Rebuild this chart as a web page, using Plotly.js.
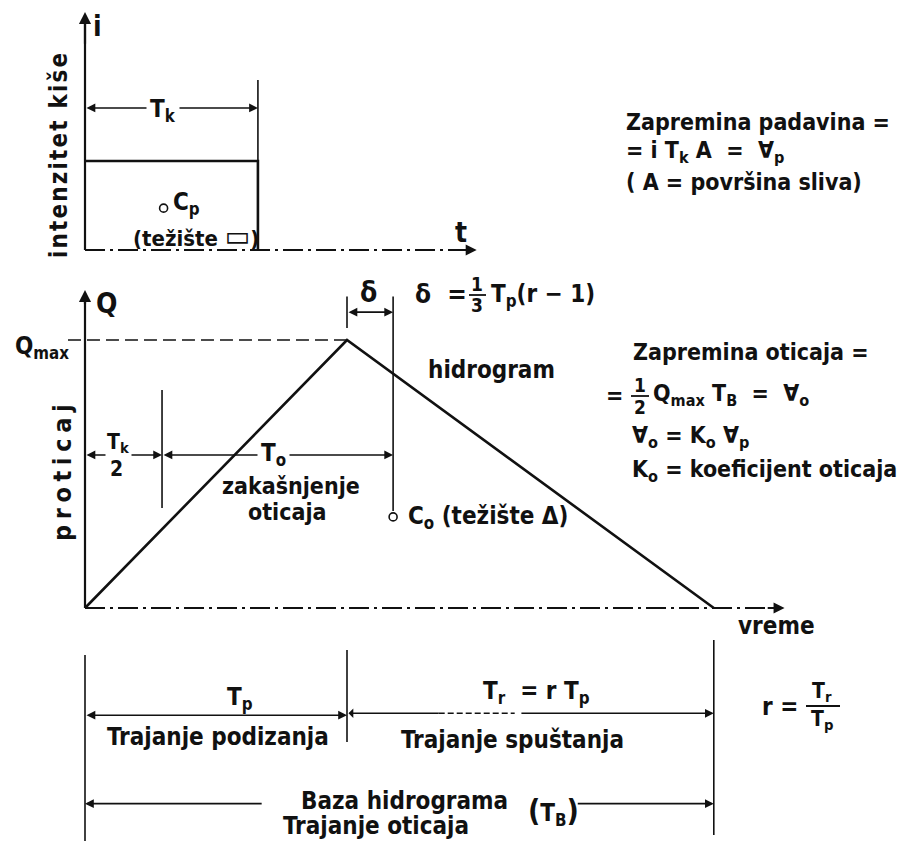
<!DOCTYPE html>
<html>
<head>
<meta charset="utf-8">
<script src="https://cdn.plot.ly/plotly-3.0.1.min.js"></script>
<style>
  html, body { margin: 0; padding: 0; background: #fff; }
  #chart { width: 905px; height: 841px; }
</style>
</head>
<body>
<div id="chart"></div>
<script>
// ---- Rain (hyetograph) ----
const rainTime = [0, 6.6, 6.6];          // Tk = 6.6
const rainIntensity = [1, 1, 0];         // constant intensity i = 1
const rainCentroidTime = [3.0];
const rainCentroidIntensity = [0.47];

// ---- Runoff (triangular hydrograph) ----
const hydroTime = [0, 10, 24];           // start, Tp, TB
const hydroFlow = [0, 10, 0];            // Qmax = 10
const runoffCentroidTime = [11.76];
const runoffCentroidFlow = [3.4];

// ---- Dimension marks ----
const halfRainTime = 2.94;               // Tk / 2
const lagEndTime = 11.76;                // end of To (through Co)
const peakTime = 10;
const baseTime = 24;

const W = 905, H = 841;
const FONT = "DejaVu Sans Condensed, DejaVu Sans, sans-serif";
const INK = "#111";
const FS = 24;
const FR = 23;   // right-hand formulas

// time axis: 26.2 px per unit, origin at x = 85
const xRange = [-85 / 26.2, (W - 85) / 26.2];
// flow axis: 26.8 px per unit, zero at y = 608
const yRange = [(608 - H) / 26.8, 608 / 26.8];
// intensity axis: 89 px per unit, zero at y = 250
const y2Range = [-(H - 250) / 89, 250 / 89];

function line(x, y, opts) {
  opts = opts || {};
  return {
    type: "scatter", mode: "lines", x: x, y: y,
    yaxis: opts.yaxis || "y",
    line: { color: INK, width: opts.width || 2, dash: opts.dash || "solid" },
    hoverinfo: "skip", showlegend: false
  };
}

const traces = [
  // hyetograph
  line([0, 0], [0, 2.55], { yaxis: "y2", width: 2.2 }),
  line(rainTime, rainIntensity, { yaxis: "y2", width: 2.6 }),
  line([rainTime[1], rainTime[1]], [1, 1.91], { yaxis: "y2", width: 1.6 }),
  line([0, 14.6], [0, 0], { yaxis: "y2", width: 2, dash: "20px,5px,3px,5px" }),
  {
    type: "scatter", mode: "markers", x: rainCentroidTime, y: rainCentroidIntensity, yaxis: "y2",
    marker: { symbol: "circle-open", size: 8, color: INK, line: { width: 1.6, color: INK } },
    hoverinfo: "skip", showlegend: false
  },

  // hydrograph
  line([0, 0], [0, 11.5], { width: 2.2 }),
  line(hydroTime, hydroFlow, { width: 2.6 }),
  line([-0.65, peakTime], [hydroFlow[1], hydroFlow[1]], { width: 1.6, dash: "13px,6px" }),
  line([0, 26.6], [0, 0], { width: 2, dash: "20px,5px,3px,5px" }),
  line([peakTime, peakTime], [10.45, 11.62], { width: 1.6 }),
  line([lagEndTime, lagEndTime], [3.62, 11.62], { width: 1.6 }),
  line([halfRainTime, halfRainTime], [3.73, 8.13], { width: 1.6 }),
  {
    type: "scatter", mode: "markers", x: runoffCentroidTime, y: runoffCentroidFlow,
    marker: { symbol: "circle-open", size: 8, color: INK, line: { width: 1.6, color: INK } },
    hoverinfo: "skip", showlegend: false
  },

  // time-base dimension lines
  line([0, 0], [-1.75, yRange[0]], { width: 1.6 }),
  line([peakTime, peakTime], [-1.57, -5.0], { width: 1.6 }),
  line([baseTime, baseTime], [-1.19, -8.47], { width: 1.6 }),
  line([13.5, 16.4], [-3.93, -3.93], { width: 1.6, dash: "6px,3px" })
];

// arrows drawn in data coordinates
function arrow(x0, y0, x1, y1, yref, side, w) {
  return {
    xref: "x", yref: yref, axref: "x", ayref: yref,
    x: x1, y: y1, ax: x0, ay: y0, text: "",
    showarrow: true, arrowside: side, arrowhead: 2, arrowsize: 1.1,
    arrowwidth: w || 1.6, arrowcolor: INK, standoff: 0, startstandoff: 0
  };
}

// text placed by page position
function label(text, px, py, size, opts) {
  opts = opts || {};
  const a = {
    xref: "paper", yref: "paper", x: px / W, y: 1 - py / H,
    xanchor: opts.anchor || "center", yanchor: "middle",
    text: text, showarrow: false,
    font: { family: FONT, size: size || FS, color: INK, weight: opts.weight || "bold" }
  };
  if (opts.angle !== undefined) a.textangle = opts.angle;
  if (opts.bg) { a.bgcolor = opts.bg; a.borderpad = opts.pad || 1; }
  return a;
}

const spaced = (s, sep) => s.split("").join(sep);

const annotations = [
  // axis arrowheads
  arrow(0, 2.3, 0, 2.674, "y2", "end", 2.2),
  arrow(14.2, 0, 14.95, 0, "y2", "end", 2),
  arrow(0, 11.3, 0, 11.87, "y", "end", 2.2),
  arrow(26.0, 0, 26.7, 0, "y", "end", 2),

  // Tk
  arrow(0, 1.596, rainTime[1], 1.596, "y2", "end+start"),
  // delta
  arrow(peakTime, 11.04, lagEndTime, 11.04, "y", "end+start"),
  // Tk/2 and To
  arrow(0, 5.71, halfRainTime, 5.71, "y", "end+start"),
  arrow(halfRainTime, 5.71, lagEndTime, 5.71, "y", "end+start"),
  // Tp, Tr
  arrow(0, -4.0, peakTime, -4.0, "y", "end+start"),
  arrow(peakTime, -3.93, 13.5, -3.93, "y", "start"),
  arrow(16.6, -3.93, baseTime, -3.93, "y", "end"),
  // TB
  arrow(6.8, -7.3, 0, -7.3, "y", "end"),
  arrow(18.75, -7.3, baseTime, -7.3, "y", "end"),

  // hyetograph text
  label("i", 97, 27, 28),
  label(spaced("intenzitet kiše", "\u200A"), 59, 156, 24, { angle: -90 }),
  label("T<sub>k</sub>", 163, 111, FS, { bg: "#fff", pad: 3 }),
  label("C<sub>p</sub>", 171, 204, FS, { anchor: "left" }),
  label("(težište <span style=\"font-size:30px\">▭</span>)", 196, 235, 22),
  label("t", 461, 232, 28),
  label("Zapremina padavina =", 624, 122, FR, { anchor: "left" }),
  label("= i T<sub>k</sub> A  =  ∀<sub>p</sub>", 624, 152, FR, { anchor: "left" }),
  label("( A = površina sliva)", 624, 182, FR, { anchor: "left" }),

  // hydrograph text
  label("Q", 106, 303, 28),
  label("Q<sub>max</sub>", 42, 347, FS),
  label("δ", 368, 292, 28),
  label("δ  =", 413, 294, 26, { anchor: "left" }),
  label("1", 477, 284, 19),
  label("3", 477, 305, 19),
  label("T<sub>p</sub>(r − 1)", 489, 295, FS, { anchor: "left" }),
  label("hidrogram", 491, 370, FS),
  label("Zapremina oticaja =", 631, 352, FR, { anchor: "left" }),
  label("=", 614, 395, FR, { anchor: "center" }),
  label("1", 640, 385, 19),
  label("2", 640, 407, 19),
  label("Q<sub>max</sub> T<sub>B</sub>  =  ∀<sub>o</sub>", 651, 395, FR, { anchor: "left" }),
  label("∀<sub>o</sub> = K<sub>o</sub> ∀<sub>p</sub>", 630, 437, FR, { anchor: "left" }),
  label("K<sub>o</sub> = koeficijent oticaja", 630, 471, FR, { anchor: "left" }),
  label("T<sub>k</sub>", 118, 443, 21, { bg: "#fff", pad: 0 }),
  label("2", 117, 469, 21),
  label("T<sub>o</sub>", 273, 454, FS, { bg: "#fff", pad: 3 }),
  label("zakašnjenje", 291, 486, 23),
  label("oticaja", 287, 512, 23),
  label("C<sub>o</sub> (težište Δ)", 406, 517, FS, { anchor: "left" }),
  label(spaced("proticaj", "\u2005"), 62, 472, 25, { angle: -90 }),
  label("vreme", 776, 626, FS),

  // time-base text
  label("T<sub>p</sub>", 240, 698, FS),
  label("T<sub>r</sub>  = r T<sub>p</sub>", 536, 692, FS),
  label("Trajanje podizanja", 218, 737, FS),
  label("Trajanje spuštanja", 512, 740, FS),
  label("r =", 760, 707, FS, { anchor: "left" }),
  label("T<sub>r</sub>", 822, 692, 21),
  label("T<sub>p</sub>", 822, 720, 21),
  label("Baza hidrograma", 404, 801, FS),
  label("<span style=\"font-size:30px\">(</span>T<sub>B</sub><span style=\"font-size:30px\">)</span>", 553, 811, FS),
  label("Trajanje oticaja", 376, 826, FS)
];

// fraction bars
function bar(px0, px1, py) {
  return {
    type: "line", xref: "paper", yref: "paper",
    x0: px0 / W, x1: px1 / W, y0: 1 - py / H, y1: 1 - py / H,
    line: { color: INK, width: 1.8 }
  };
}
const shapes = [
  bar(469, 486, 295),
  bar(631, 649, 396),
  bar(806, 840, 706)
];

const layout = {
  width: W, height: H,
  margin: { l: 0, r: 0, t: 0, b: 0 },
  paper_bgcolor: "#fff", plot_bgcolor: "#fff",
  showlegend: false,
  xaxis: { range: xRange, visible: false, fixedrange: true },
  yaxis: { range: yRange, visible: false, fixedrange: true },
  yaxis2: { range: y2Range, visible: false, overlaying: "y", fixedrange: true },
  annotations: annotations,
  shapes: shapes
};

Plotly.newPlot("chart", traces, layout, { staticPlot: true, displayModeBar: false });
</script>
</body>
</html>
